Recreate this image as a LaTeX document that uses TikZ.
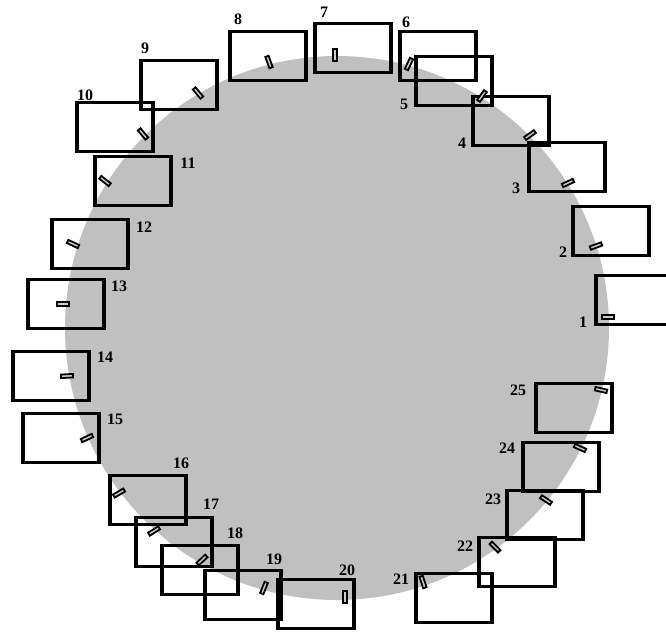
\documentclass[tikz,border=0pt]{standalone}
\usepackage{fontspec}
\setmainfont{Liberation Serif}
\usepackage{tikz}
\definecolor{discgray}{HTML}{C0C0C0}

\begin{document}
\begin{tikzpicture}[x=1pt,y=-1pt,
  frame/.style={draw,line width=3.2pt,minimum width=76pt,minimum height=49pt,inner sep=0pt},
  car/.style={draw,line width=1.8pt,fill=black!20,minimum width=12pt,minimum height=3.5pt,inner sep=0pt},
  num/.style={font=\fontsize{16}{16}\selectfont\bfseries,inner sep=0pt}]
  \useasboundingbox (0,0) rectangle (666,633);
  \fill[discgray] (337,328) circle (272pt);
  \foreach \n/\px/\py/\tx/\ty in {
      1/634/300/583/322,  2/611/231/563/252,  3/567/167/516/188,
      4/511/121/462/143,  5/454/81/404/104,   6/438/56/406/22,
      7/353/48/324/12,    8/268/56/238/19,    9/179/85/145/48,
      10/115/127/85/95,   11/133/181/188/163, 12/90/244/144/227,
      13/66/304/119/286,  14/51/376/105/357,  15/61/438/115/419,
      16/148/500/181/463, 17/174/542/211/504, 18/200/570/235/533,
      19/243/595/274/559, 20/316/604/347/570, 21/454/598/401/579,
      22/517/562/465/546, 23/545/515/493/499, 24/561/467/507/448,
      25/574/408/518/390} {
    \node[frame] (b\n) at (\px,\py) {};
    \node[num] (l\n) at (\tx,\ty) {\n};
  }
  \foreach \n/\cx/\cy/\ca in {
      1/608/317/0, 2/596/246/20, 3/568/183/25, 4/530/135/35, 5/482/96/55,
      6/409/64/65, 7/335/55/90, 8/269/62/110, 9/198/93/130, 10/143/134/130,
      11/105/181/142, 12/73/244/155, 13/63/304/180, 14/67/376/183, 15/87/438/25,
      16/119/493/30, 17/154/531/32, 18/202/560/43, 19/264/588/68, 20/345/597/90,
      21/423/582/108, 22/495/547/135, 23/546/500/147, 24/580/448/156, 25/601/390/167}
    \node[car,rotate=\ca] (v\n) at (\cx,\cy) {};
\end{tikzpicture}
\end{document}
